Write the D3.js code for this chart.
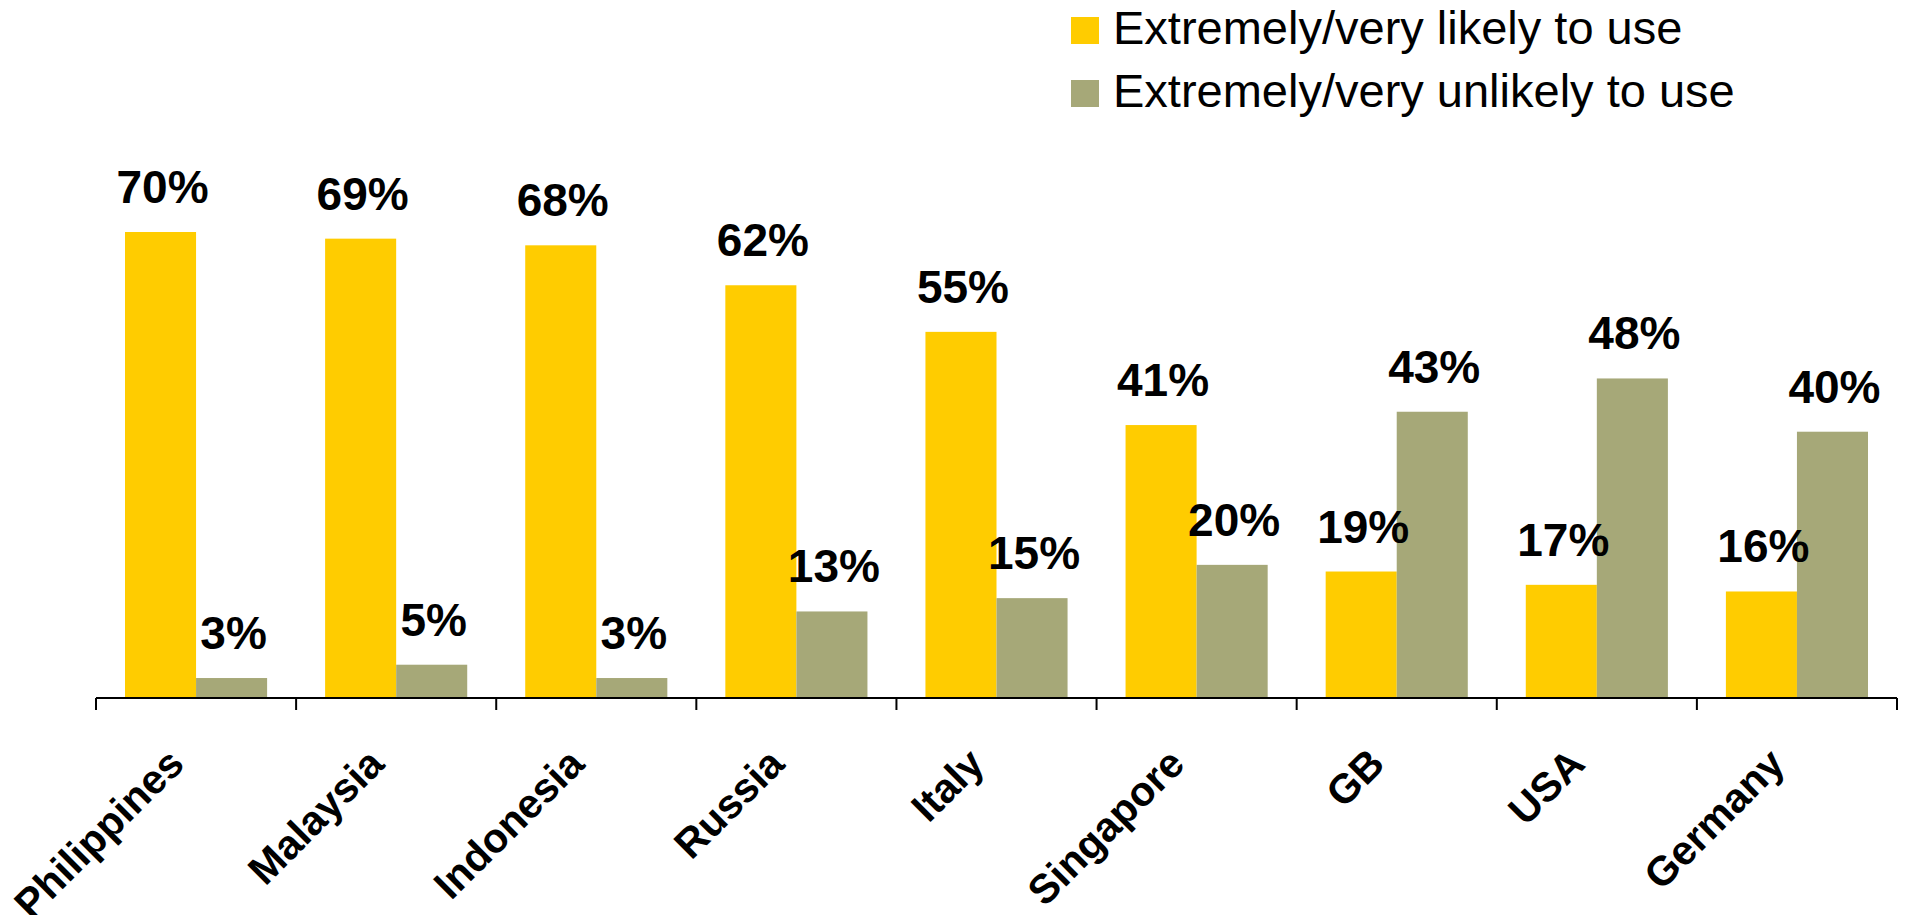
<!DOCTYPE html>
<html>
<head>
<meta charset="utf-8">
<script src="https://cdn.jsdelivr.net/npm/d3@7"></script>
<style>
  body { margin: 0; background: #fff; }
  text { font-family: Arial, "Liberation Sans", sans-serif; }
</style>
</head>
<body>
<script>
var countries = ["Philippines", "Malaysia", "Indonesia", "Russia", "Italy", "Singapore", "GB", "USA", "Germany"];
var likely = [70, 69, 68, 62, 55, 41, 19, 17, 16];
var unlikely = [3, 5, 3, 13, 15, 20, 43, 48, 40];
var seriesNames = ["Extremely/very likely to use", "Extremely/very unlikely to use"];
var colors = ["#ffcc00", "#a6a878"];

var width = 1906;
var height = 915;
var axisY = 698;

var svg = d3.select("body").append("svg")
    .attr("width", width)
    .attr("height", height);

var x = d3.scaleBand()
    .domain(countries)
    .range([96, 1897]);

var x1 = d3.scaleBand()
    .domain([0, 1])
    .range([29, x.bandwidth() - 29]);

var y = d3.scaleLinear()
    .domain([0, 70])
    .range([axisY, 232]);

var rows = countries.map(function (c, i) {
    return {country: c, values: [likely[i], unlikely[i]]};
});

// barre
var groups = svg.selectAll(".gruppo")
    .data(rows)
    .enter()
    .append("g")
    .attr("class", "gruppo")
    .attr("transform", function (d) { return "translate(" + x(d.country) + ",0)"; });

groups.selectAll("rect")
    .data(function (d) { return d.values; })
    .enter()
    .append("rect")
    .attr("x", function (d, i) { return x1(i); })
    .attr("y", function (d) { return y(d); })
    .attr("width", x1.bandwidth())
    .attr("height", function (d) { return axisY - y(d); })
    .attr("fill", function (d, i) { return colors[i]; });

// etichette valori
groups.selectAll("text")
    .data(function (d) { return d.values; })
    .enter()
    .append("text")
    .attr("x", function (d, i) { return x1(i) + x1.bandwidth() / 2 + 2; })
    .attr("y", function (d) { return y(d) - 29; })
    .attr("text-anchor", "middle")
    .style("font-size", "46px")
    .style("font-weight", "bold")
    .attr("fill", "#000")
    .text(function (d) { return d + "%"; });

// asse x
var axis = svg.append("g")
    .attr("transform", "translate(0," + axisY + ")");

axis.append("line")
    .attr("x1", x.range()[0])
    .attr("x2", x.range()[1])
    .attr("stroke", "#000")
    .attr("stroke-width", 2);

var ticks = countries.map(function (c) { return x(c); }).concat([x.range()[1]]);
axis.selectAll(".tick")
    .data(ticks)
    .enter()
    .append("line")
    .attr("class", "tick")
    .attr("x1", function (d) { return d; })
    .attr("x2", function (d) { return d; })
    .attr("y1", 0)
    .attr("y2", 12)
    .attr("stroke", "#000")
    .attr("stroke-width", 2);

axis.selectAll(".label")
    .data(countries)
    .enter()
    .append("text")
    .attr("class", "label")
    .attr("transform", function (d) {
        return "translate(" + (x(d) + x.bandwidth() / 2 - 10) + ",68) rotate(-45)";
    })
    .attr("text-anchor", "end")
    .style("font-size", "41px")
    .style("font-weight", "bold")
    .attr("fill", "#000")
    .text(function (d) { return d; });

// legenda
var legend = svg.selectAll(".legenda")
    .data(seriesNames)
    .enter()
    .append("g")
    .attr("class", "legenda")
    .attr("transform", function (d, i) { return "translate(1071," + (17 + i * 63) + ")"; });

legend.append("rect")
    .attr("width", 28)
    .attr("height", 27)
    .attr("fill", function (d, i) { return colors[i]; });

legend.append("text")
    .attr("x", 42)
    .attr("y", 27)
    .style("font-size", "47px")
    .attr("fill", "#000")
    .text(function (d) { return d; });
</script>
</body>
</html>
